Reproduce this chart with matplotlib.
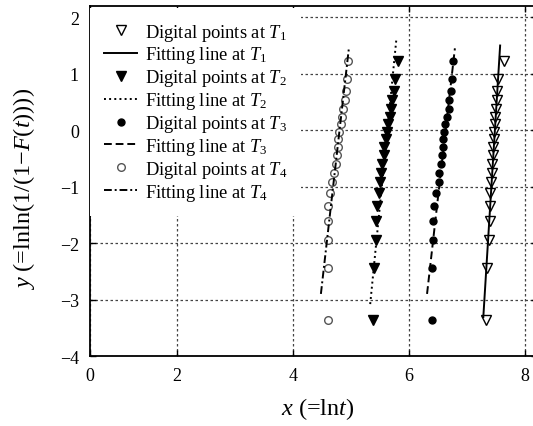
import numpy as np
import matplotlib
matplotlib.use("Agg")
import matplotlib.pyplot as plt

plt.rcParams["font.family"] = ["Liberation Serif", "DejaVu Serif"]
plt.rcParams["mathtext.fontset"] = "custom"
plt.rcParams["mathtext.rm"] = "Liberation Serif"
plt.rcParams["mathtext.it"] = "Liberation Serif:italic"

# y = lnln(1/(1-F(t))) (20 points per temperature)
y_pts = [-3.36, -2.44, -1.95, -1.61, -1.34, -1.12, -0.92, -0.75, -0.59, -0.44,
         -0.30, -0.16, -0.03, 0.11, 0.24, 0.38, 0.53, 0.70, 0.91, 1.22]

# x = ln t for each temperature
x_T1 = [7.32, 7.34, 7.37, 7.39, 7.39, 7.40, 7.41, 7.43, 7.43, 7.44,
        7.45, 7.47, 7.47, 7.48, 7.48, 7.50, 7.51, 7.52, 7.54, 7.63]
x_T2 = [5.37, 5.39, 5.43, 5.43, 5.45, 5.48, 5.50, 5.52, 5.54, 5.56,
        5.57, 5.60, 5.62, 5.64, 5.67, 5.69, 5.71, 5.74, 5.75, 5.81]
x_T3 = [6.40, 6.40, 6.41, 6.42, 6.43, 6.46, 6.51, 6.52, 6.55, 6.56,
        6.58, 6.59, 6.60, 6.62, 6.65, 6.68, 6.69, 6.72, 6.74, 6.76]
x_T4 = [4.60, 4.60, 4.60, 4.61, 4.61, 4.64, 4.68, 4.71, 4.74, 4.76,
        4.77, 4.78, 4.80, 4.83, 4.85, 4.86, 4.90, 4.91, 4.93, 4.95]

# fitted line end points (x, y)
fit_T1_x, fit_T1_y = [7.28, 7.57], [-3.31, 1.50]
fit_T2_x, fit_T2_y = [5.33, 5.78], [-3.08, 1.60]
fit_T3_x, fit_T3_y = [6.31, 6.79], [-2.90, 1.45]
fit_T4_x, fit_T4_y = [4.48, 4.96], [-2.90, 1.43]


# the 0-2 part of the x axis is squeezed in the original figure
def fwd(x):
    x = np.asarray(x, dtype=float)
    return np.where(x < 2, 2 - (2 - x) * 0.75, x)


def inv(u):
    u = np.asarray(u, dtype=float)
    return np.where(u < 2, 2 - (2 - u) / 0.75, u)


fig = plt.figure(figsize=(5.33, 4.27), dpi=100)
ax = fig.add_axes([0.1689, 0.1639, 0.838, 0.8197])
ax.set_xscale("function", functions=(fwd, inv))

ax.plot(x_T1, y_pts, ls="none", marker="v", ms=7, mfc="white", mec="k", mew=1,
        label="Digital points at $T_1$")
ax.plot(fit_T1_x, fit_T1_y, "k-", lw=1.4, label="Fitting line at $T_1$")
ax.plot(x_T2, y_pts, ls="none", marker="v", ms=7, mfc="k", mec="k",
        label="Digital points at $T_2$")
ax.plot(fit_T2_x, fit_T2_y, color="k", ls=":", lw=1.4, label="Fitting line at $T_2$")
ax.plot(x_T3, y_pts, ls="none", marker="o", ms=5, mfc="k", mec="k",
        label="Digital points at $T_3$")
ax.plot(fit_T3_x, fit_T3_y, color="k", ls=(0, (4, 2)), lw=1.4, label="Fitting line at $T_3$")
ax.plot(x_T4, y_pts, ls="none", marker="o", ms=5.5, mfc="white", mec="#555", mew=1,
        label="Digital points at $T_4$")
ax.plot(fit_T4_x, fit_T4_y, color="k", ls=(0, (4, 1.5, 1, 1.5)), lw=1.4,
        label="Fitting line at $T_4$")

ax.set_xlim(0, 8.2)
ax.set_ylim(-4, 2.2)
ax.set_xticks([0, 2, 4, 6, 8])
ax.set_xticklabels(["0", "2", "4", "6", "8"])
ax.set_yticks([-4, -3, -2, -1, 0, 1, 2])
ax.minorticks_off()

ax.set_axisbelow(True)
ax.grid(True, color="#444", ls=(0, (2, 2)), lw=0.9)
for s in ax.spines.values():
    s.set_linewidth(1.3)
ax.tick_params(direction="in", top=True, right=True, length=4, width=1,
               labelsize=13, pad=8)

ax.set_xlabel("$x$ (=ln$t$)", fontsize=17.5)
ax.set_ylabel("$y$ (=lnln(1/(1\u2212$F$($t$))))", fontsize=17.5)
ax.xaxis.set_label_coords(0.51, -0.112)
ax.yaxis.set_label_coords(-0.118, 0.48)

leg = ax.legend(loc="upper left", bbox_to_anchor=(0.0, 0.995), borderaxespad=0,
                fontsize=13.3, numpoints=1, handlelength=1.8, handletextpad=0.4,
                labelspacing=0.1, borderpad=0.75, fancybox=False,
                frameon=True, framealpha=1, facecolor="white", edgecolor="none")

fig.savefig("out.png", dpi=100)
plt.close(fig)
